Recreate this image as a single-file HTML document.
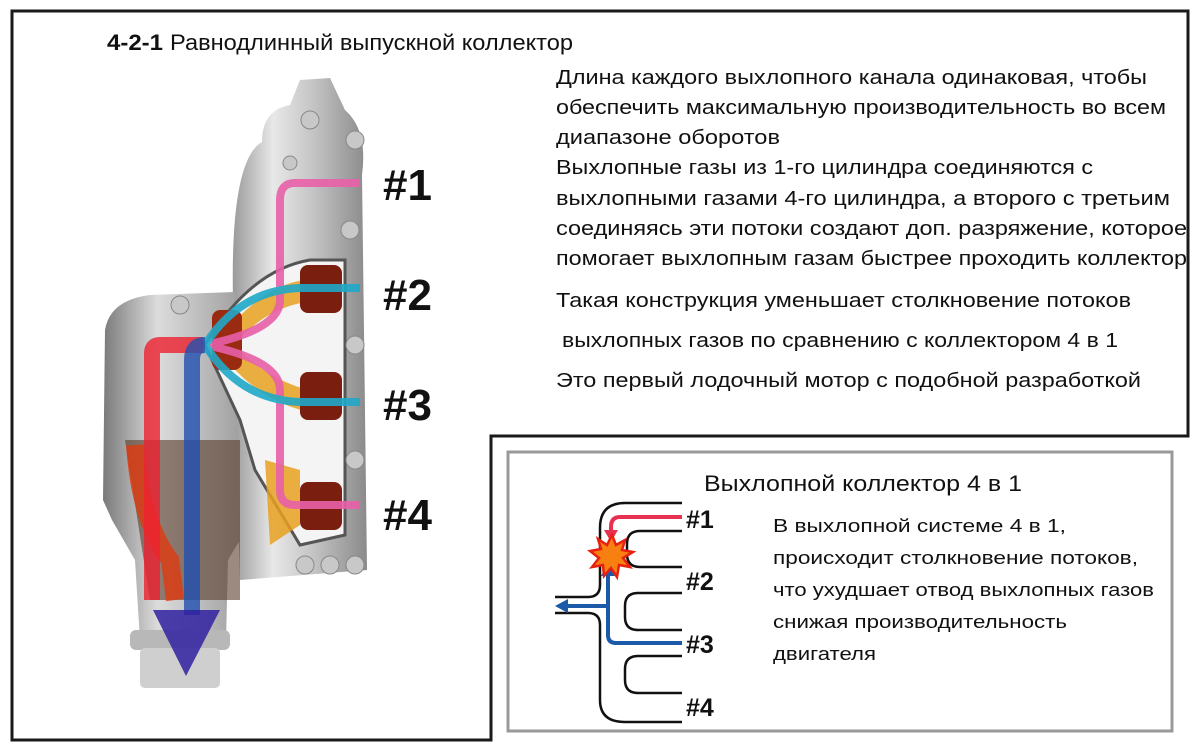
<!DOCTYPE html>
<html><head><meta charset="utf-8"><style>
html,body{margin:0;padding:0;background:#fff;width:1200px;height:750px;overflow:hidden}
svg{display:block}
text{font-family:"Liberation Sans Narrow","Liberation Sans",sans-serif;fill:#111}
</style></head><body>
<svg width="1200" height="750" viewBox="0 0 1200 750" xmlns="http://www.w3.org/2000/svg">
<defs>
<linearGradient id="metal" x1="0" x2="1" y1="0" y2="0">
<stop offset="0" stop-color="#9a9a9a"/><stop offset="0.3" stop-color="#e8e8e8"/><stop offset="0.6" stop-color="#c4c4c4"/><stop offset="1" stop-color="#8a8a8a"/></linearGradient>
<linearGradient id="metal2" x1="0" x2="1" y1="0" y2="0">
<stop offset="0" stop-color="#7a7a7a"/><stop offset="0.4" stop-color="#dcdcdc"/><stop offset="1" stop-color="#a0a0a0"/></linearGradient>
</defs>
<!-- frames -->
<path d="M12,740 V11 H1188 V436 H491 V740 Z" fill="none" stroke="#1a1a1a" stroke-width="3"/>
<rect x="508" y="452" width="664" height="279" fill="none" stroke="#999" stroke-width="3"/>

<!-- title -->
<text x="107" y="50" font-size="22" font-weight="bold" font-family="Liberation Sans" textLength="56" lengthAdjust="spacingAndGlyphs">4-2-1</text>
<text x="170" y="50" font-size="22" textLength="403" lengthAdjust="spacingAndGlyphs">Равнодлинный выпускной коллектор</text>

<!-- engine -->
<g>
<path d="M262,142 Q262,110 290,105 L300,80 L330,78 L345,110 Q368,130 362,175 L367,570 L240,580 L233,300 Q230,160 262,142 Z" fill="url(#metal)"/>
<path d="M105,330 Q110,300 150,295 L235,292 L240,540 L228,560 L226,640 L140,640 L135,560 L112,520 L103,500 Z" fill="url(#metal2)"/>
<rect x="130" y="630" width="100" height="20" rx="6" fill="#b8b8b8"/>
<rect x="140" y="648" width="80" height="40" rx="5" fill="#cfcfcf"/>
<path d="M205,345 Q250,270 310,260 L345,260 L345,535 L300,545 L255,470 L240,420 Z" fill="#f4f4f4" stroke="#555" stroke-width="3"/>
<path d="M215,345 Q260,285 305,280 L330,280 L330,300 Q270,300 235,345 Q270,385 330,395 L330,415 Q260,410 215,345 Z" fill="#e8a020" opacity="0.85"/>
<path d="M265,460 L300,470 L300,525 L270,545 Z" fill="#e8a020" opacity="0.85"/>
<rect x="300" y="265" width="42" height="48" rx="8" fill="#7a1f10"/>
<rect x="300" y="372" width="42" height="48" rx="8" fill="#7a1f10"/>
<rect x="300" y="482" width="42" height="48" rx="8" fill="#7a1f10"/>
<rect x="212" y="310" width="30" height="60" rx="8" fill="#9a2a10"/>
<path d="M125,440 L240,440 L240,600 L150,600 Z" fill="#5a3a2a" opacity="0.6"/>
<path d="M135,445 Q140,520 170,560 L175,600" stroke="#e03a10" stroke-width="18" fill="none" opacity="0.8"/>
<g fill="#c8c8c8" stroke="#888" stroke-width="1">
<circle cx="355" cy="140" r="9"/><circle cx="350" cy="230" r="9"/><circle cx="355" cy="345" r="9"/><circle cx="355" cy="460" r="9"/><circle cx="355" cy="565" r="9"/><circle cx="330" cy="565" r="9"/><circle cx="305" cy="565" r="9"/><circle cx="180" cy="305" r="9"/><circle cx="310" cy="120" r="9"/><circle cx="290" cy="163" r="7"/>
</g>
<!-- flows -->
<g fill="none" stroke-width="8" stroke-linecap="butt" opacity="0.9">
<path d="M360,183 H295 Q280,183 280,200 V300 Q280,330 205,345" stroke="#e860a8"/>
<path d="M360,505 H295 Q280,505 280,490 V390 Q280,360 205,345" stroke="#e860a8"/>
<path d="M360,288 H300 Q240,290 205,345" stroke="#20a8c8"/>
<path d="M360,402 H300 Q240,400 205,345" stroke="#20a8c8"/>
</g>
<path d="M203,345 H160 Q152,345 152,353 V600" fill="none" stroke="#ee2030" stroke-width="16" opacity="0.8"/>
<path d="M205,345 Q192,345 192,360 V615" fill="none" stroke="#2050b0" stroke-width="16" opacity="0.8"/>
<polygon points="153,610 220,610 186,676" fill="#3020a0" opacity="0.85"/>
</g>
<g font-family="Liberation Sans" font-weight="bold" font-size="44">
<text x="383" y="200" font-family="Liberation Sans">#1</text>
<text x="383" y="310" font-family="Liberation Sans">#2</text>
<text x="383" y="420" font-family="Liberation Sans">#3</text>
<text x="383" y="530" font-family="Liberation Sans">#4</text>
</g>

<!-- right text -->
<g font-size="20">
<text x="556" y="84" textLength="591" lengthAdjust="spacingAndGlyphs">Длина каждого выхлопного канала одинаковая, чтобы</text>
<text x="556" y="114" textLength="610" lengthAdjust="spacingAndGlyphs">обеспечить максимальную производительность во всем</text>
<text x="556" y="144" textLength="224" lengthAdjust="spacingAndGlyphs">диапазоне оборотов</text>
<text x="556" y="174" textLength="537" lengthAdjust="spacingAndGlyphs">Выхлопные газы из 1-го цилиндра соединяются с</text>
<text x="556" y="205" textLength="614" lengthAdjust="spacingAndGlyphs">выхлопными газами 4-го цилиндра, а второго с третьим</text>
<text x="556" y="235" textLength="631" lengthAdjust="spacingAndGlyphs">соединяясь эти потоки создают доп. разряжение, которое</text>
<text x="556" y="265" textLength="631" lengthAdjust="spacingAndGlyphs">помогает выхлопным газам быстрее проходить коллектор</text>
<text x="556" y="307" textLength="575" lengthAdjust="spacingAndGlyphs">Такая конструкция уменьшает столкновение потоков</text>
<text x="562" y="347" textLength="556" lengthAdjust="spacingAndGlyphs">выхлопных газов по сравнению с коллектором 4 в 1</text>
<text x="556" y="387" textLength="585" lengthAdjust="spacingAndGlyphs">Это первый лодочный мотор с подобной разработкой</text>
</g>

<!-- lower box -->
<text x="704" y="491" font-size="22" textLength="318" lengthAdjust="spacingAndGlyphs">Выхлопной коллектор 4 в 1</text>
<g font-size="18">
<text x="773" y="532" textLength="293" lengthAdjust="spacingAndGlyphs">В выхлопной системе 4 в 1,</text>
<text x="773" y="564" textLength="365" lengthAdjust="spacingAndGlyphs">происходит столкновение потоков,</text>
<text x="773" y="596" textLength="381" lengthAdjust="spacingAndGlyphs">что ухудшает отвод выхлопных газов</text>
<text x="773" y="628" textLength="294" lengthAdjust="spacingAndGlyphs">снижая производительность</text>
<text x="773" y="660" textLength="103" lengthAdjust="spacingAndGlyphs">двигателя</text>
</g>
<g fill="none" stroke="#111" stroke-width="2.5">
<path d="M682,503 H625 Q600,503 600,528 V585 Q600,597 588,597 H555"/>
<path d="M555,613 H588 Q600,613 600,625 V700 Q600,722 625,722 H682"/>
<path d="M682,531 H640 Q627,531 627,544 V554 Q627,567 640,567 H682"/>
<path d="M682,593 H638 Q625,593 625,606 V617 Q625,630 638,630 H682"/>
<path d="M682,656 H638 Q625,656 625,669 V680 Q625,693 638,693 H682"/>
</g>
<path d="M682,517 H620 Q611,517 611,527 V532" fill="none" stroke="#e83050" stroke-width="4"/>
<polygon points="604,530 618,530 611,542" fill="#e83050"/>
<path d="M682,643 H616 Q608,643 608,635 V574" fill="none" stroke="#1a5aa8" stroke-width="4"/>
<polygon points="601,576 615,576 608,563" fill="#1a5aa8"/>
<path d="M608,606 H566" fill="none" stroke="#1a5aa8" stroke-width="4"/>
<polygon points="568,599 568,613 555,606" fill="#1a5aa8"/>
<polygon points="612,535 616,545 625,540 622,550 633,552 623,558 630,567 619,565 617,577 611,568 604,576 603,565 592,567 599,558 590,551 601,549 598,539 607,545" fill="#f88010" stroke="#e82010" stroke-width="2.5"/>
<g font-family="Liberation Sans" font-weight="bold" font-size="25">
<text x="686" y="528" font-family="Liberation Sans">#1</text>
<text x="686" y="590" font-family="Liberation Sans">#2</text>
<text x="686" y="653" font-family="Liberation Sans">#3</text>
<text x="686" y="716" font-family="Liberation Sans">#4</text>
</g>
</svg>
</body></html>
